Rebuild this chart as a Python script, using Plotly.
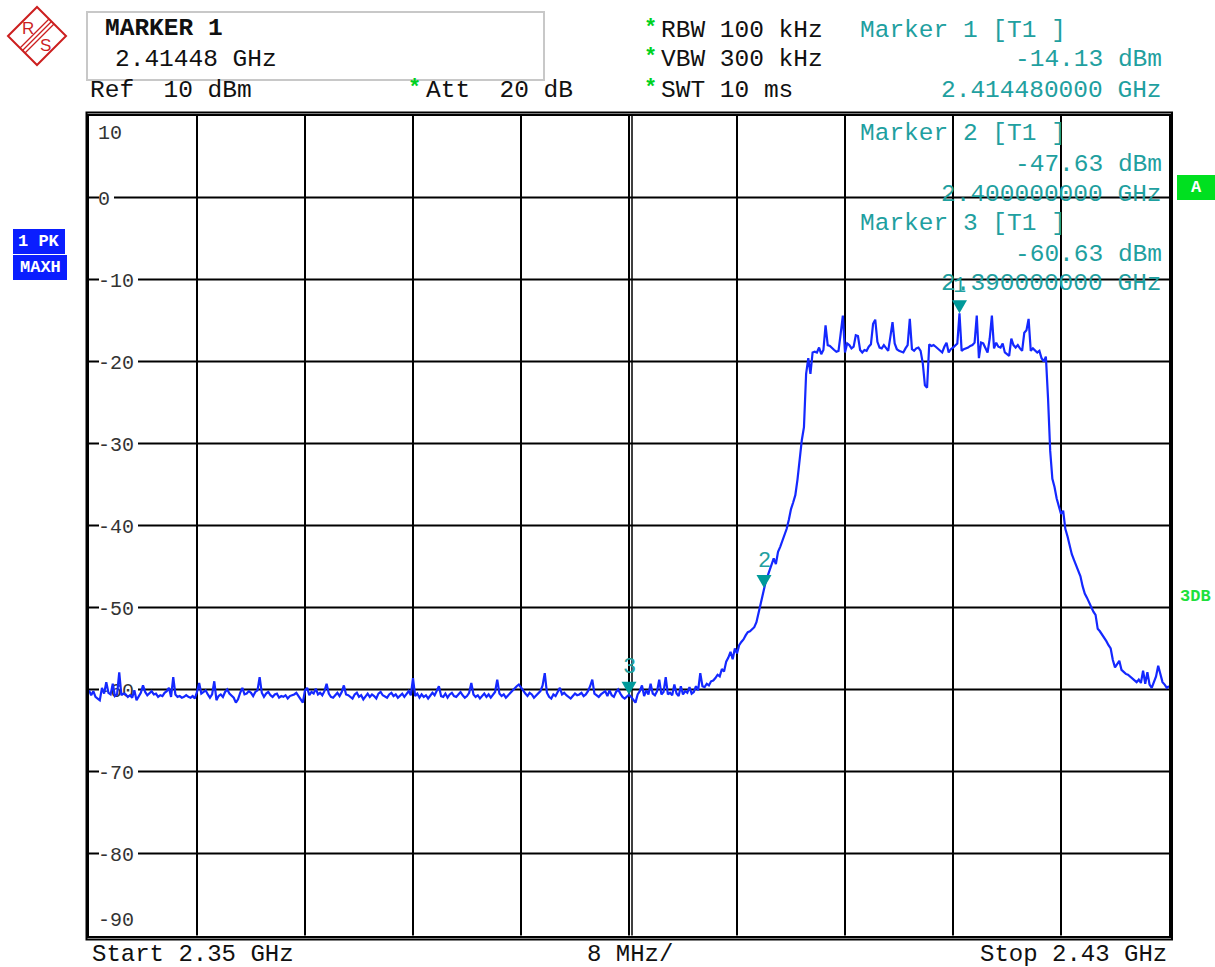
import numpy as np
import plotly.graph_objects as go

# ---------------- data ----------------
F_START_GHZ = 2.35
F_STOP_GHZ = 2.43
X_DIV_GHZ = 0.008
N_XDIV = 10
REF_LEVEL_DBM = 10
BOTTOM_DBM = -90
Y_DIV_DB = 10

# trace levels (dBm), 501 sweep points, split in segments
floor_left = [
    -60.1, -60.7, -60.2, -60.9, -61.1, -61.3, -59.8, -60.5, -59.1, -60.4,
    -60.6, -59.3, -60.8, -60.6, -57.9, -60.7, -60.5, -60.6, -60.9, -60.7,
    -61.0, -60.1, -61.3, -60.8, -60.4, -59.5, -60.3, -60.7, -60.5, -60.2,
    -60.6, -60.5, -60.9, -60.7, -60.8, -60.4, -60.2, -59.8, -60.9, -58.5,
    -60.6, -60.9, -60.8, -61.0, -60.9, -60.7, -60.9, -61.0, -60.8, -61.1,
    -60.3, -59.2, -60.5, -60.3, -60.1, -60.6, -61.0, -60.6, -59.0, -61.3,
    -60.8, -60.6, -60.9, -60.3, -60.0, -60.5, -60.7, -61.0, -61.6, -61.2,
    -60.4, -59.8, -60.6, -60.5, -60.2, -60.4, -60.8, -60.3, -60.1, -58.5,
    -60.4, -60.9, -60.5, -60.3, -60.7, -60.9, -60.6, -60.5, -61.0, -60.8,
    -60.9, -60.7, -61.1, -60.8, -60.7, -60.6, -60.4, -60.8, -61.2, -61.6,
    -60.1, -59.8, -60.7, -60.3, -60.5, -59.9, -60.6, -60.4, -60.7, -60.2,
    -59.3, -60.5, -60.9, -61.0, -60.7, -60.4, -60.8, -60.3, -59.5, -60.6,
    -60.7, -60.9, -61.1, -60.6, -60.4, -60.9, -60.7, -61.2, -60.8, -60.5,
    -60.9, -60.6, -60.8, -61.1, -60.5, -60.3, -60.7, -60.9, -61.0, -60.6,
    -60.4, -60.8, -60.6, -61.0, -60.7, -60.5, -60.9, -60.6, -60.2, -60.7,
    -58.6, -60.8, -60.5, -61.0, -60.6, -60.9, -60.7, -61.1, -60.8, -60.4,
    -60.7, -60.2, -59.6, -60.8, -60.9, -60.5, -61.0, -60.6, -60.4, -60.8,
    -60.9, -60.6, -60.3, -60.7, -61.0, -60.8, -60.4, -59.2, -60.6, -60.9,
    -60.7, -61.1, -60.8, -60.5, -60.9, -60.6, -61.0, -60.7, -60.3, -58.8,
    -60.5, -60.8, -60.6, -61.0, -60.7, -60.4, -60.2, -59.8, -59.6, -59.4,
    -59.7, -60.1, -60.5, -60.8, -60.4, -60.6, -61.0, -60.7, -60.5, -60.2,
    -59.5, -58.0, -60.4, -60.9, -61.1, -60.6, -60.8, -60.3, -59.8, -60.6,
    -60.4, -60.7, -60.9, -61.1, -60.8, -60.5, -60.7, -60.6, -60.4, -60.8,
    -60.6, -60.2, -59.6, -58.8, -60.5, -60.7, -60.9, -60.6, -60.4, -60.2,
    -60.8, -60.1, -60.7, -60.9, -60.3, -60.0, -60.5, -60.9, -61.1, -60.8,
]
floor_right = [
    -60.63, -60.9, -61.3, -61.6, -60.6, -60.2, -59.5, -60.8, -60.1, -60.6,
    -59.3, -60.5, -60.7, -60.2, -58.8, -60.6, -60.3, -58.5, -60.6, -60.4,
    -60.7, -59.4, -60.5, -60.8, -59.6, -60.6, -60.2, -60.4, -59.7, -60.5,
    -60.3, -59.6, -60.1, -58.0, -59.6,
]
rise = [
    -59.7, -59.3, -59.5, -59.0, -58.9, -58.6, -58.2, -58.4, -57.5, -57.8,
    -56.6, -56.1, -55.4, -56.3, -55.0, -55.6, -54.6, -54.2, -53.9, -53.4,
    -53.0, -52.9, -52.6, -52.4, -51.8, -50.6, -49.4, -48.1, -47.2, -46.3,
    -45.5, -44.6, -44.0, -44.7, -43.2, -42.6, -41.9, -41.2, -40.4, -39.3,
    -38.0, -37.2, -36.3, -34.4, -31.5, -29.6, -28.0, -21.5, -19.6, -21.5,
]
top = [
    -18.9, -18.8, -18.9, -18.3, -19.1, -18.6, -15.6, -18.0, -18.1, -18.4,
    -18.6, -18.8, -18.7, -16.6, -14.4, -18.9, -17.8, -18.0, -18.4, -18.2,
    -16.8, -16.9, -18.6, -18.9, -18.6, -18.7, -18.2, -17.9, -15.4, -14.9,
    -17.6, -18.3, -18.4, -18.0, -18.3, -18.7, -17.0, -15.2, -17.8, -18.5,
    -18.7, -18.8, -18.9, -18.4, -18.0, -14.8, -18.5, -18.7, -18.4, -18.3,
    -18.7, -20.2, -22.9, -23.2, -17.9, -18.1, -18.0, -18.2, -18.4, -18.6,
    -18.9, -18.2, -17.7, -18.9, -18.5, -18.3, -18.0, -17.8, -14.13, -18.7,
    -18.5, -18.4, -18.3, -18.1, -18.0, -17.7, -14.4, -19.6, -17.7, -17.8,
    -18.4, -18.9, -17.2, -14.4, -18.4, -17.7, -18.2, -18.3, -17.8, -18.9,
    -19.1, -19.3, -17.2, -18.0, -18.3, -18.0, -18.4, -18.7, -16.5, -16.2,
    -14.8, -18.7, -18.4, -18.6, -18.9, -18.7, -19.6, -20.0, -19.4,
]
fall = [
    -24.5, -30.9, -34.3, -35.3, -36.7, -37.6, -38.6, -38.2, -40.4, -41.3,
    -42.5, -43.5, -44.2, -44.9, -45.6, -46.2, -47.4, -48.3, -48.8, -49.4,
    -50.0, -50.5, -50.9, -52.6, -52.9, -53.3, -53.6, -54.1, -54.6, -55.0,
    -56.4, -57.3, -56.9, -56.5, -57.6, -57.9, -58.1, -58.2, -58.4, -58.6,
    -58.9, -59.1, -58.8, -59.2, -57.7, -59.3, -57.9, -59.4, -59.8, -59.2,
    -58.4, -57.1, -58.3, -59.1, -59.4, -59.8, -59.6,
]

marker_names = ["1", "2", "3"]
marker_freq_ghz = [2.41448, 2.400, 2.390]
marker_level_dbm = [-14.13, -47.63, -60.63]

y_tick_values = list(range(BOTTOM_DBM, REF_LEVEL_DBM + 1, Y_DIV_DB))
x_grid_values = [F_START_GHZ + k * X_DIV_GHZ for k in range(1, N_XDIV)]

level = floor_left + floor_right + rise + top + fall
freq = np.linspace(F_START_GHZ, F_STOP_GHZ, len(level))

# ---------------- layout helpers ----------------
W, H = 1215, 967
PL, PR, PT, PB = 89, 1169, 115.5, 935.5
DB_PER_PX = (REF_LEVEL_DBM - BOTTOM_DBM) / (PB - PT)


def px(x):
    return x / W


def py(y):
    return 1 - y / H


NB = "\u00a0"
MONO = "Liberation Mono"
TEAL = "#1fa0a0"
MARK = "#009a9a"
GREEN = "#00d21e"
BLACK = "#111111"


def ann(text, x, y, anchor="left", color=BLACK, size=24.5, bold=False, family=MONO):
    t = text.replace(" ", NB)
    if bold:
        t = "<b>" + t + "</b>"
    return dict(text=t, x=px(x), y=py(y), xref="paper", yref="paper",
                xanchor=anchor, yanchor="middle", showarrow=False,
                font=dict(family=family, size=size, color=color))


fig = go.Figure()
fig.add_trace(go.Scatter(x=freq, y=level, mode="lines",
                         line=dict(color="#1428ff", width=2.2),
                         hoverinfo="skip", showlegend=False))

shapes = []
annotations = []

# grid drawn as shapes (below the trace)
for xv in x_grid_values:
    shapes.append(dict(type="line", xref="x", yref="y domain", x0=xv, x1=xv, y0=0, y1=1,
                       line=dict(color="black", width=2), layer="below"))
for yv in y_tick_values[1:-1]:
    shapes.append(dict(type="line", xref="x domain", yref="y", x0=0, x1=1, y0=yv, y1=yv,
                       line=dict(color="black", width=2), layer="below"))
# secondary line next to the centre grid line
shapes.append(dict(type="line", xref="x", yref="y domain", xsizemode="pixel",
                   xanchor=(F_START_GHZ + F_STOP_GHZ) / 2, x0=3, x1=3, y0=0, y1=1,
                   line=dict(color="black", width=1.5), layer="below"))

# white gaps in the grid where the level labels sit
label_pos = []
for v in y_tick_values:
    t = str(v)
    off = -16 if v == REF_LEVEL_DBM else (17 if v == BOTTOM_DBM else 0)
    label_pos.append(v + off * DB_PER_PX)
    shapes.append(dict(type="rect", layer="below", xref="x", yref="y",
                       xsizemode="pixel", ysizemode="pixel",
                       xanchor=F_START_GHZ, yanchor=v,
                       x0=10, x1=10 + 12 * len(t) + 3, y0=off - 9, y1=off + 9,
                       fillcolor="white", line=dict(width=0)))

# outer frame (double border look)
shapes.append(dict(type="rect", xref="paper", yref="paper",
                   x0=px(86.5), x1=px(1172), y0=py(939.5), y1=py(112.5),
                   line=dict(color="black", width=2), layer="above"))

# marker info box at the top
shapes.append(dict(type="rect", xref="paper", yref="paper",
                   x0=px(87), x1=px(544), y0=py(80), y1=py(12),
                   line=dict(color="#c8c8c8", width=2)))

# R&S logo
shapes.append(dict(type="path", xref="paper", yref="paper",
                   path=f"M {px(8)} {py(36)} L {px(37)} {py(7)} L {px(66)} {py(36)} L {px(37)} {py(65)} Z",
                   line=dict(color="#cc1f1f", width=2)))
for d in (-2.5, 0, 2.5):
    shapes.append(dict(type="line", xref="paper", yref="paper",
                       x0=px(51.5 + d), y0=py(21.5 + d), x1=px(22.5 + d), y1=py(50.5 + d),
                       line=dict(color="#cc1f1f", width=1.2)))
annotations.append(ann("R", 28, 28, anchor="center", color="#cc1f1f", size=17, family="Liberation Sans"))
annotations.append(ann("S", 45, 46, anchor="center", color="#cc1f1f", size=17, family="Liberation Sans"))

# blue trace labels and green boxes
shapes.append(dict(type="rect", xref="paper", yref="paper", x0=px(13), x1=px(65), y0=py(254), y1=py(229),
                   fillcolor="#0a1eff", line=dict(width=0)))
shapes.append(dict(type="rect", xref="paper", yref="paper", x0=px(13), x1=px(67), y0=py(280), y1=py(255),
                   fillcolor="#0a1eff", line=dict(width=0)))
shapes.append(dict(type="rect", xref="paper", yref="paper", x0=px(1177), x1=px(1215), y0=py(200), y1=py(175),
                   fillcolor="#00e020", line=dict(width=0)))
annotations.append(ann("1 PK", 39, 241.5, anchor="center", color="white", size=17, bold=True))
annotations.append(ann("MAXH", 40, 267.5, anchor="center", color="white", size=17, bold=True))
annotations.append(ann("A", 1196, 187.5, anchor="center", color="white", size=17, bold=True))
annotations.append(ann("3DB", 1213, 596, anchor="right", color="#1ee03c", size=17, bold=True))

# markers on the trace
for name, f, v in zip(marker_names, marker_freq_ghz, marker_level_dbm):
    shapes.append(dict(type="path", xref="x", yref="y", xsizemode="pixel", ysizemode="pixel",
                       xanchor=f, yanchor=v, path="M -7.5 13 L 7.5 13 L 0 0 Z",
                       fillcolor=MARK, line=dict(width=0), layer="above"))
    annotations.append(dict(text=name, x=f, y=v, xref="x", yref="y", yshift=27,
                            showarrow=False, xanchor="center", yanchor="middle",
                            font=dict(family=MONO, size=22, color=TEAL)))

# header texts
annotations.append(ann("MARKER 1", 103, 28, bold=True))
annotations.append(ann(f"{marker_freq_ghz[0]:.5f} GHz", 113, 60))
annotations.append(ann(f"Ref  {REF_LEVEL_DBM} dBm", 88, 90))
annotations.append(ann("*", 414, 88, anchor="center", color=GREEN, size=22, bold=True))
annotations.append(ann("Att  20 dB", 424, 90))
for row_y, txt in zip((30, 60, 90), ("RBW 100 kHz", "VBW 300 kHz", "SWT 10 ms")):
    annotations.append(ann("*", 650, row_y - 2, anchor="center", color=GREEN, size=22, bold=True))
    annotations.append(ann(txt, 659, row_y))

# marker readouts
readout_rows = [(30, 60, 90), (134, 164, 194), (224, 254, 284)]
for k, (r1, r2, r3) in enumerate(readout_rows):
    annotations.append(ann(f"Marker {marker_names[k]} [T1 ]", 858, r1, color=TEAL))
    annotations.append(ann(f"{marker_level_dbm[k]:.2f} dBm", 1164, r2, anchor="right", color=TEAL))
    annotations.append(ann(f"{marker_freq_ghz[k]:.9f} GHz", 1164, r3, anchor="right", color=TEAL))

# footer texts
annotations.append(ann(f"Start {F_START_GHZ} GHz", 90, 954, size=24))
annotations.append(ann(f"{int(round(X_DIV_GHZ * 1000))} MHz/", 585, 954, size=24))
annotations.append(ann(f"Stop {F_STOP_GHZ} GHz", 1169, 954, anchor="right", size=24))

axis_common = dict(showgrid=False, zeroline=False, ticks="", showline=True,
                   linecolor="black", linewidth=2, mirror=True, fixedrange=True)

fig.update_layout(
    width=W, height=H, autosize=False,
    margin=dict(l=0, r=0, t=0, b=0, pad=0),
    paper_bgcolor="white", plot_bgcolor="white",
    showlegend=False,
    xaxis=dict(range=[F_START_GHZ, F_STOP_GHZ], domain=[px(PL), px(PR)],
               showticklabels=False, **axis_common),
    yaxis=dict(range=[BOTTOM_DBM, REF_LEVEL_DBM], domain=[py(PB), py(PT)],
               showticklabels=True, ticklabelposition="inside", layer="below traces",
               tickmode="array", tickvals=label_pos, ticktext=[str(v) for v in y_tick_values],
               ticklabelstandoff=10,
               tickfont=dict(family=MONO, size=20, color="#333333"), **axis_common),
    shapes=shapes,
    annotations=annotations,
)

fig.write_html("out.html", post_script="document.body.style.margin='0px';",
               config={"displayModeBar": False})
